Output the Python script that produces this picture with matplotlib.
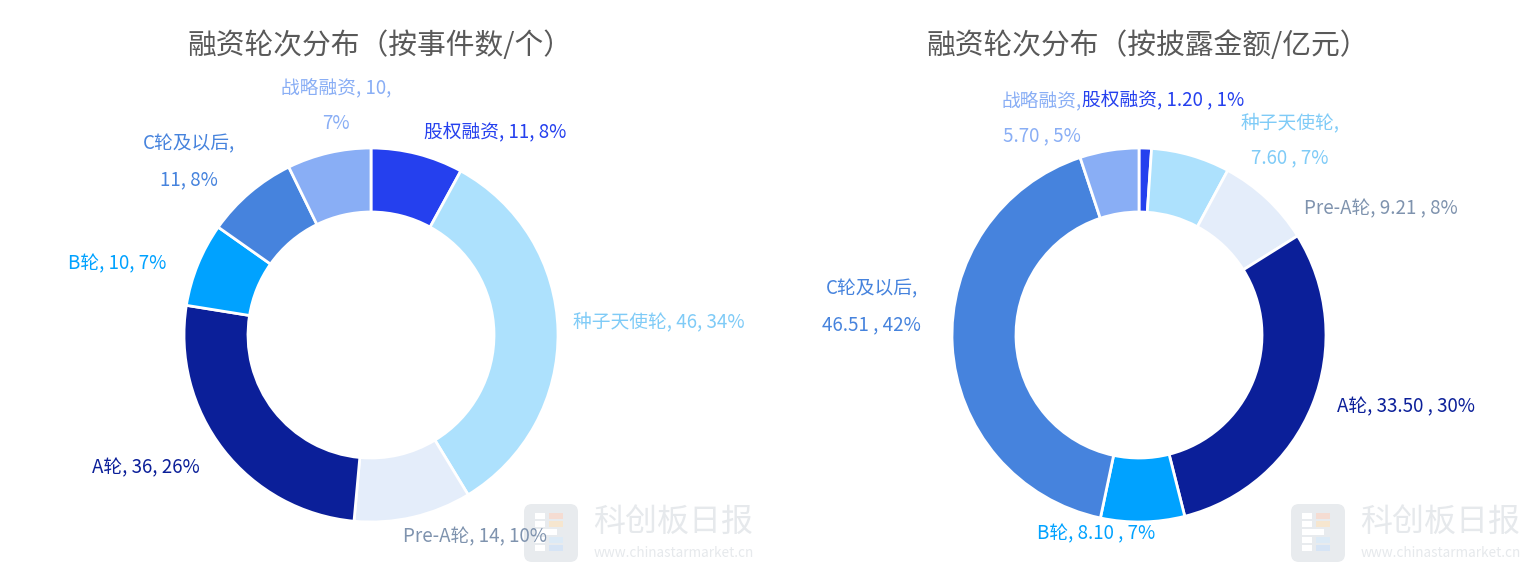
import numpy as np
import matplotlib.pyplot as plt
from matplotlib.patches import FancyBboxPatch, Rectangle

plt.rcParams['font.family'] = ['Noto Sans CJK SC', 'DejaVu Sans']

# Data
categories = ['股权融资', '种子天使轮', 'Pre-A轮', 'A轮', 'B轮', 'C轮及以后', '战略融资']
count_values = [11, 46, 14, 36, 10, 11, 10]
amount_values = [1.20, 7.60, 9.21, 33.50, 8.10, 46.51, 5.70]
titles = ['融资轮次分布（按事件数/个）', '融资轮次分布（按披露金额/亿元）']

slice_colors = ['#2540EE', '#ADE1FD', '#E4EDFA', '#0B1F99', '#00A2FF', '#4683DD', '#89AEF5']
label_colors = ['#2540EE', '#7FCBF7', '#7F93AE', '#0B1F99', '#00A2FF', '#4683DD', '#89AEF5']

# label layout tweaks (pixels, y down), like the overlap shifting of the original
left_nudge = [(0, 3), (-11, -8), (56, -6), (-3, 2), (-7, 9), (2, -11), (13, -22)]
right_nudge = [(17, -22), (42, 10), (19, 29), (0, -8), (-47, -14), (-5, -40), (-63, -6)]
left_wrap = {'C轮及以后': 'name', '战略融资': 'value'}
right_wrap = {'种子天使轮': 'name', 'C轮及以后': 'name', '战略融资': 'name'}

W, H = 1535, 576
fig = plt.figure(figsize=(W / 100, H / 100), dpi=100)
ax = fig.add_axes([0, 0, 1, 1])


def percents(vals):
    # largest remainder rounding, sums to 100
    vals = np.array(vals, dtype=float)
    raw = vals / vals.sum() * 100
    fl = np.floor(raw).astype(int)
    rest = 100 - fl.sum()
    order = np.argsort(-(raw - fl))
    fl[order[:rest]] += 1
    return fl


def donut(cx, cy, vals, fmt, wrap, nudge, title):
    R = 187
    wedges, _ = ax.pie(vals, colors=slice_colors, center=(cx, cy), radius=R,
                       startangle=90, counterclock=False,
                       wedgeprops=dict(width=64, edgecolor='white', linewidth=2))
    pcts = percents(vals)
    for i, w in enumerate(wedges):
        ang = np.deg2rad((w.theta1 + w.theta2) / 2)
        lx = cx + R * 1.14 * np.cos(ang) + nudge[i][0]
        ly = cy + R * 1.14 * np.sin(ang) - nudge[i][1]
        c = np.cos(ang)
        ha = 'left' if c > 0.235 else ('right' if c < -0.235 else 'center')
        name, val, pct = categories[i], fmt(vals[i]), f'{pcts[i]}%'
        how = wrap.get(name)
        if how == 'name':
            txt = f'{name},\n{val}, {pct}'
        elif how == 'value':
            txt = f'{name}, {val},\n{pct}'
        else:
            txt = f'{name}, {val}, {pct}'
        ax.text(lx, ly, txt, ha=ha, va='center', fontsize=13.5,
                color=label_colors[i], linespacing=1.9, multialignment='center')
    # full-width bracket leaves blank space on the right, hence the small shift
    ax.text(cx + 9, H - 46, title, ha='center', va='center', fontsize=20.7, color='#595959')


def watermark(x0):
    y0 = H - 563
    ax.add_patch(FancyBboxPatch((x0 + 4, y0 + 4), 48, 52,
                                boxstyle='round,pad=3,rounding_size=8',
                                fc='#E8EBEE', ec='none', zorder=0.5))
    # little bars of the logo
    for k, wd in enumerate([10, 10, 22, 10, 10]):
        ax.add_patch(Rectangle((x0 + 12, y0 + 44 - k * 8), wd, 6,
                               fc='white', ec='none', zorder=0.6))
    for k, col in enumerate(['#F5DCD2', '#F6E6CF', '#DCEAF6', '#D6E4F5']):
        ax.add_patch(Rectangle((x0 + 26, y0 + 44 - k * 8 - (8 if k > 1 else 0)), 14, 6,
                               fc=col, ec='none', zorder=0.6))
    ax.text(x0 + 70, H - 522, '科创板日报', ha='left', va='center',
            fontsize=23, color='#E6E9EC')
    ax.text(x0 + 71, H - 553, 'www.chinastarmarket.cn', ha='left', va='center',
            fontsize=9.8, color='#E6E9EC')


donut(371, H - 335, count_values, lambda v: f'{v}', left_wrap, left_nudge, titles[0])
donut(1139, H - 335, amount_values, lambda v: f'{v:.2f} ', right_wrap, right_nudge, titles[1])
watermark(523)
watermark(1290)

ax.set_xlim(0, W)
ax.set_ylim(0, H)
ax.set_aspect('equal')
ax.axis('off')

fig.savefig('out.png', dpi=100, facecolor='white')
